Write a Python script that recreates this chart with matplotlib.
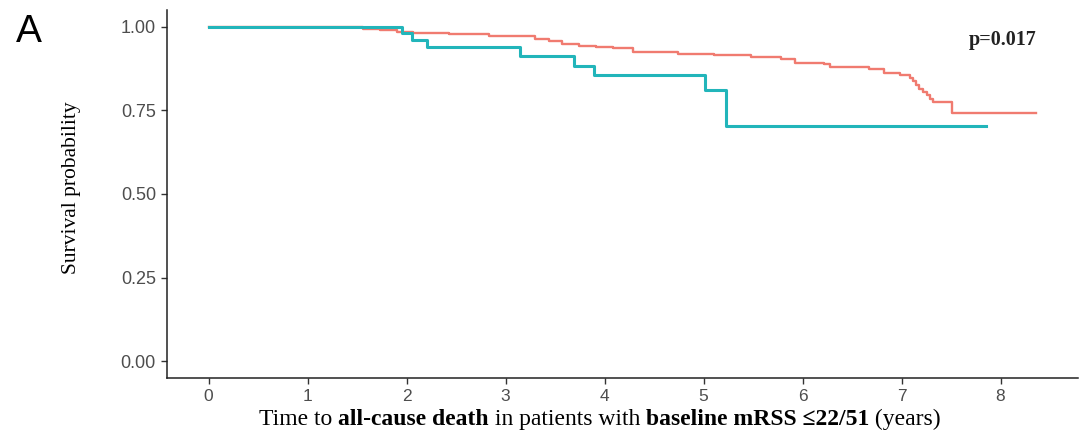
import matplotlib.pyplot as plt

TEAL = "#22B5BA"
RED = "#F07B70"
TICK_GREY = "#4D4D4D"

# Kaplan-Meier steps (time in years, survival after step)
teal_time = [0, 1.95, 2.05, 2.21, 3.15, 3.69, 3.89, 5.01, 5.23, 7.85]
teal_surv = [1.0, 0.981, 0.960, 0.938, 0.911, 0.884, 0.857, 0.812, 0.704, 0.704]

red_time = [0, 1.13, 1.56, 1.73, 1.90, 2.06, 2.43, 2.83, 3.30, 3.44, 3.57,
            3.74, 3.91, 4.09, 4.29, 4.74, 5.11, 5.48, 5.78, 5.92, 6.22, 6.28,
            6.67, 6.82, 6.98, 7.085, 7.12, 7.15, 7.18, 7.22, 7.26, 7.29, 7.32,
            7.51, 8.36]
red_surv = [1.0, 0.998, 0.994, 0.990, 0.984, 0.981, 0.977, 0.971, 0.964,
            0.957, 0.948, 0.943, 0.939, 0.935, 0.923, 0.919, 0.916, 0.909,
            0.903, 0.891, 0.888, 0.879, 0.875, 0.862, 0.857, 0.848, 0.838,
            0.826, 0.815, 0.805, 0.795, 0.785, 0.775, 0.742, 0.742]

x_ticks = [0, 1, 2, 3, 4, 5, 6, 7, 8]
y_ticks = [0.00, 0.25, 0.50, 0.75, 1.00]
p_label = "p=0.017"

xlabel_parts = [
    ("Time to ", "normal"),
    ("all-cause death", "bold"),
    (" in patients with ", "normal"),
    ("baseline mRSS \u226422/51", "bold"),
    (" (years)", "normal"),
]

SERIF = ["Liberation Serif", "DejaVu Serif"]
SANS = ["Liberation Sans", "DejaVu Sans"]
XLABEL_SIZE = 17
XLABEL_Y = 0.021  # baseline, figure fraction

fig = plt.figure(figsize=(10.81, 4.34), dpi=100)
ax = fig.add_axes([0.1545, 0.129, 0.8425, 0.848])

ax.step(red_time, red_surv, where="post", color=RED, linewidth=1.7, zorder=3)
ax.step(teal_time, teal_surv, where="post", color=TEAL, linewidth=2.2, zorder=4)

ax.set_xlim(-0.42, 8.78)
ax.set_ylim(-0.05, 1.05)
ax.set_xticks(x_ticks)
ax.set_xticklabels([str(t) for t in x_ticks], family=SANS, fontsize=12.5)
ax.set_yticks(y_ticks)
ax.set_yticklabels([f"{v:.2f}" for v in y_ticks], family=SANS, fontsize=13)
ax.tick_params(direction="out", length=4, width=1, colors="#333333")
ax.tick_params(axis="x", pad=4)
ax.tick_params(axis="y", pad=4)
for lbl in ax.get_xticklabels() + ax.get_yticklabels():
    lbl.set_color(TICK_GREY)

for side in ("top", "right"):
    ax.spines[side].set_visible(False)
for side in ("left", "bottom"):
    ax.spines[side].set_color("#222222")
    ax.spines[side].set_linewidth(1.1)

ax.set_ylabel("Survival probability", family=SERIF, fontsize=15.5)
ax.yaxis.set_label_coords(-0.094, 0.516)

ax.text(0.955, 0.918, p_label, transform=ax.transAxes, ha="right", va="center",
        family=SERIF, fontsize=14.5, fontweight="bold", color="#222222")

fig.text(0.015, 0.903, "A", family=SANS, fontsize=28, ha="left", va="baseline")

# x label: mixed normal/bold pieces chained one after another, then centred
texts = [fig.text(0, XLABEL_Y, txt, family=SERIF, fontsize=XLABEL_SIZE,
                  fontweight=weight, ha="left", va="baseline")
         for txt, weight in xlabel_parts]
fig.canvas.draw()
renderer = fig.canvas.get_renderer()
widths = [t.get_window_extent(renderer).width for t in texts]
x_px = 600 - sum(widths) / 2
for t, w in zip(texts, widths):
    t.set_position((x_px / fig.bbox.width, XLABEL_Y))
    x_px += w

fig.savefig("out.png", dpi=100, facecolor="white")
